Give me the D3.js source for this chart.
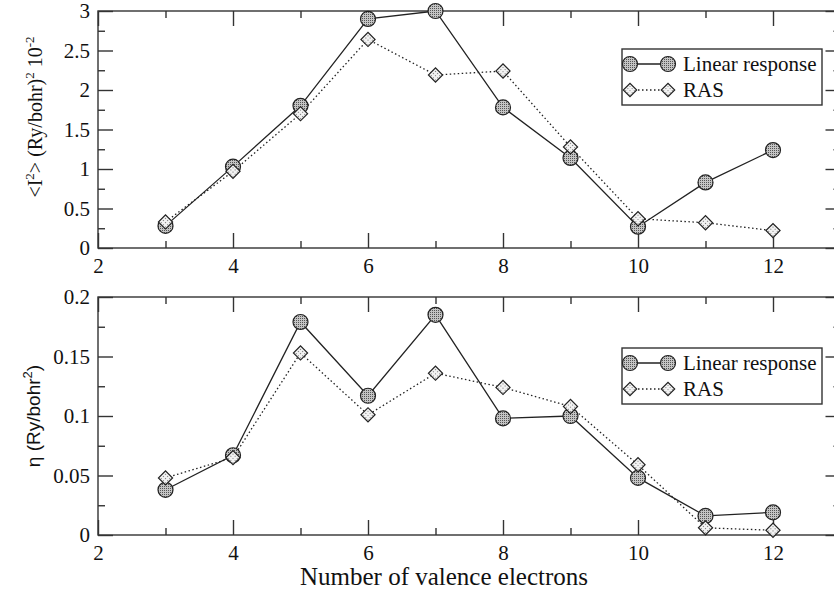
<!DOCTYPE html>
<html lang="en">
<head>
<meta charset="UTF-8">
<title>Valence electrons</title>
<script src="https://cdn.jsdelivr.net/npm/d3@7.9.0/dist/d3.min.js"></script>
<style>
  body { margin: 0; background: #fff; }
  .axis path, .axis line { stroke: #333; stroke-width: 1.4; }
</style>
</head>
<body>
<div id="chart"></div>
<script>
// data
const electrons = [3, 4, 5, 6, 7, 8, 9, 10, 11, 12];
const top_linear = [0.28, 1.03, 1.80, 2.90, 3.00, 1.78, 1.14, 0.27, 0.83, 1.24];
const top_ras    = [0.33, 0.97, 1.70, 2.64, 2.19, 2.24, 1.28, 0.37, 0.32, 0.22];
const bot_linear = [0.038, 0.067, 0.179, 0.117, 0.185, 0.098, 0.100, 0.048, 0.016, 0.019];
const bot_ras    = [0.048, 0.065, 0.153, 0.101, 0.136, 0.124, 0.108, 0.059, 0.006, 0.004];
const xMajor = [2, 4, 6, 8, 10, 12];
const xMinor = [3, 5, 7, 9, 11, 13];
const topMajor = [0, 0.5, 1, 1.5, 2, 2.5, 3];
const topMinor = [0.25, 0.75, 1.25, 1.75, 2.25, 2.75];
const botMajor = [0, 0.05, 0.1, 0.15, 0.2];
const botMinor = [0.025, 0.075, 0.125, 0.175];
const seriesNames = ["Linear response", "RAS"];

const SERIF = "Liberation Serif";
const SANS = "Liberation Sans";

const W = 834, H = 594;
const svg = d3.select("#chart").append("svg").attr("width", W).attr("height", H);

const defs = svg.append("defs");
// stippled fills for the markers
const pDark = defs.append("pattern").attr("id", "dotsDark")
  .attr("patternUnits", "userSpaceOnUse").attr("width", 2).attr("height", 2);
pDark.append("rect").attr("width", 2).attr("height", 2).attr("fill", "#c4c4c4");
pDark.append("rect").attr("width", 1).attr("height", 1).attr("fill", "#555");
const pLight = defs.append("pattern").attr("id", "dotsLight")
  .attr("patternUnits", "userSpaceOnUse").attr("width", 3).attr("height", 3);
pLight.append("rect").attr("width", 3).attr("height", 3).attr("fill", "#f2f2f2");
pLight.append("rect").attr("width", 1).attr("height", 1).attr("fill", "#777");

const x = d3.scaleLinear().domain([2, 13]).range([98, 840.5]);

function panel(yScale, major, minor, linear, ras, fmt, legendTop) {
  const [y0, y1] = yScale.range();
  const g = svg.append("g");

  // frame
  g.append("rect").attr("x", x(2)).attr("y", y1)
    .attr("width", x(13) - x(2)).attr("height", y0 - y1)
    .attr("fill", "none").attr("stroke", "#333").attr("stroke-width", 1.4);

  // bottom axis
  g.append("g").attr("class", "axis").attr("transform", `translate(0,${y0})`)
    .call(d3.axisBottom(x).tickValues(xMajor).tickSize(-15).tickPadding(10).tickFormat(d3.format("d")))
    .call(a => a.select(".domain").remove())
    .selectAll("text").attr("font-size", 21);
  g.append("g").attr("class", "axis").attr("transform", `translate(0,${y0})`)
    .call(d3.axisBottom(x).tickValues(xMinor).tickSize(-7).tickFormat(""))
    .call(a => a.select(".domain").remove());
  // top axis (ticks only)
  g.append("g").attr("class", "axis").attr("transform", `translate(0,${y1})`)
    .call(d3.axisTop(x).tickValues(xMajor).tickSize(-15).tickFormat(""))
    .call(a => a.select(".domain").remove());
  g.append("g").attr("class", "axis").attr("transform", `translate(0,${y1})`)
    .call(d3.axisTop(x).tickValues(xMinor).tickSize(-7).tickFormat(""))
    .call(a => a.select(".domain").remove());

  // left axis
  g.append("g").attr("class", "axis").attr("transform", `translate(${x(2)},0)`)
    .call(d3.axisLeft(yScale).tickValues(major).tickSize(-15).tickPadding(8).tickFormat(fmt))
    .call(a => a.select(".domain").remove())
    .selectAll("text").attr("font-size", 21);
  g.append("g").attr("class", "axis").attr("transform", `translate(${x(2)},0)`)
    .call(d3.axisLeft(yScale).tickValues(minor).tickSize(-7).tickFormat(""))
    .call(a => a.select(".domain").remove());
  // right axis
  g.append("g").attr("class", "axis").attr("transform", `translate(${x(13)},0)`)
    .call(d3.axisRight(yScale).tickValues(major).tickSize(-15).tickFormat(""))
    .call(a => a.select(".domain").remove());
  g.append("g").attr("class", "axis").attr("transform", `translate(${x(13)},0)`)
    .call(d3.axisRight(yScale).tickValues(minor).tickSize(-7).tickFormat(""))
    .call(a => a.select(".domain").remove());

  const line = d3.line().x((d, i) => x(electrons[i])).y(d => yScale(d));

  g.append("path").datum(ras).attr("d", line)
    .attr("fill", "none").attr("stroke", "#222").attr("stroke-width", 1.3)
    .attr("stroke-dasharray", "1.5,2.5");
  g.append("path").datum(linear).attr("d", line)
    .attr("fill", "none").attr("stroke", "#222").attr("stroke-width", 1.3);

  g.append("g").selectAll("circle").data(linear).join("circle")
    .attr("cx", (d, i) => x(electrons[i])).attr("cy", d => yScale(d))
    .attr("r", 7.5).attr("fill", "url(#dotsDark)").attr("stroke", "#222").attr("stroke-width", 1.2);

  g.append("g").selectAll("path").data(ras).join("path")
    .attr("transform", (d, i) => `translate(${x(electrons[i])},${yScale(d)}) rotate(45)`)
    .attr("d", d3.symbol().type(d3.symbolSquare).size(100))
    .attr("fill", "url(#dotsLight)").attr("stroke", "#222").attr("stroke-width", 1.2);

  // legend
  const lg = g.append("g").attr("transform", `translate(622,${legendTop})`);
  lg.append("rect").attr("width", 200).attr("height", 56)
    .attr("fill", "#fff").attr("stroke", "#333").attr("stroke-width", 1.4);
  const rows = [15, 41];
  lg.append("line").attr("x1", 8).attr("x2", 46).attr("y1", rows[0]).attr("y2", rows[0])
    .attr("stroke", "#222").attr("stroke-width", 1.3);
  lg.append("line").attr("x1", 8).attr("x2", 46).attr("y1", rows[1]).attr("y2", rows[1])
    .attr("stroke", "#222").attr("stroke-width", 1.3).attr("stroke-dasharray", "1.5,2.5");
  [8, 46].forEach(cx => {
    lg.append("circle").attr("cx", cx).attr("cy", rows[0]).attr("r", 7.5)
      .attr("fill", "url(#dotsDark)").attr("stroke", "#222").attr("stroke-width", 1.2);
    lg.append("path").attr("transform", `translate(${cx},${rows[1]}) rotate(45)`)
      .attr("d", d3.symbol().type(d3.symbolSquare).size(90))
      .attr("fill", "url(#dotsLight)").attr("stroke", "#222").attr("stroke-width", 1.2);
  });
  seriesNames.forEach((name, i) => {
    lg.append("text").attr("x", 61).attr("y", rows[i]).attr("dy", "0.35em")
      .attr("font-size", 21).text(name);
  });
}

const yTop = d3.scaleLinear().domain([0, 3]).range([248, 11]);
const yBot = d3.scaleLinear().domain([0, 0.2]).range([535, 297]);

panel(yTop, topMajor, topMinor, top_linear, top_ras, d3.format("~g"), 49);
panel(yBot, botMajor, botMinor, bot_linear, bot_ras, d3.format("~g"), 348);

// axis titles
const t1 = svg.append("text").attr("transform", "translate(42,117) rotate(-90)")
  .attr("text-anchor", "middle").attr("font-size", 20);
t1.append("tspan").text("<I");
t1.append("tspan").attr("font-size", 13).attr("dy", -8).text("2");
t1.append("tspan").attr("dy", 8).text("> (Ry/bohr)");
t1.append("tspan").attr("font-size", 13).attr("dy", -8).text("2");
t1.append("tspan").attr("dy", 8).text(" 10");
t1.append("tspan").attr("font-size", 13).attr("dy", -8).text("-2");

const t2 = svg.append("text").attr("class", "sans").attr("transform", "translate(40,416) rotate(-90)")
  .attr("text-anchor", "middle").attr("font-size", 19);
t2.append("tspan").text("η (Ry/bohr");
t2.append("tspan").attr("font-size", 13).attr("dy", -8).text("2");
t2.append("tspan").attr("dy", 8).text(")");

svg.append("text").attr("x", 444).attr("y", 585).attr("text-anchor", "middle")
  .attr("font-size", 25).text("Number of valence electrons");

// serif everywhere except the eta label
svg.selectAll("g.axis").attr("font-family", null);
svg.selectAll("text").attr("font-family", SERIF).attr("fill", "#111");
svg.selectAll("text.sans").attr("font-family", SANS);
</script>
</body>
</html>
